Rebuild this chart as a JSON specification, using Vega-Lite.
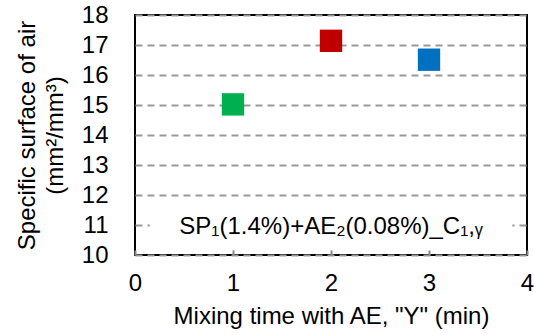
{
  "$schema": "https://vega.github.io/schema/vega-lite/v6.json",
  "width": 392,
  "height": 240,
  "autosize": {"type": "none"},
  "padding": {"left": 135, "top": 15, "right": 7, "bottom": 80},
  "background": "white",
  "config": {
    "font": "Liberation Sans",
    "view": {"stroke": "black", "strokeWidth": 2}
  },
  "datasets": {
    "pts": [
      {"time": 1, "ssa": 15.02, "c": "g"},
      {"time": 2, "ssa": 17.14, "c": "r"},
      {"time": 3, "ssa": 16.51, "c": "b"}
    ],
    "box": [{"x1": 0.15, "x2": 3.85, "y1": 10.55, "y2": 11.5, "label": "SP₁(1.4%)+AE₂(0.08%)_C₁,ᵧ", "tx": 2.0, "ty": 10.93}]
  },
  "layer": [
    {
      "data": {"name": "box"},
      "mark": {"type": "rect", "fill": "white"},
      "encoding": {
        "x": {"field": "x1", "type": "quantitative", "scale": {"domain": [0, 4]}, "title": "Mixing time with AE, \"Y\" (min)",
          "axis": {"values": [0, 1, 2, 3, 4], "format": "d", "labelOverlap": false, "labelFlush": false, "labelBound": false, "grid": false, "domain": false, "tickSize": -5, "tickColor": "#888", "tickWidth": 2, "labelPadding": 21, "titlePadding": 9, "labelFontSize": 24, "titleFontSize": 24, "labelFont": "Liberation Sans", "titleFont": "Liberation Sans", "labelColor": "#000", "titleColor": "#000", "titleFontWeight": "normal"}},
        "x2": {"field": "x2"},
        "y": {"field": "y1", "type": "quantitative", "scale": {"domain": [10, 18]}, "title": ["Specific surface of air", "(mm²/mm³)"],
          "axis": {"format": "d", "labelOverlap": false, "labelFlush": false, "labelBound": false, "grid": true, "gridColor": "#999", "gridDash": [7, 5], "gridWidth": 2, "domain": false, "ticks": false, "labelPadding": 27, "titlePadding": 14, "titleLineHeight": 28, "labelFontSize": 24, "titleFontSize": 24, "labelFont": "Liberation Sans", "titleFont": "Liberation Sans", "labelColor": "#000", "titleColor": "#000", "titleFontWeight": "normal"}},
        "y2": {"field": "y2"}
      }
    },
    {
      "data": {"name": "box"},
      "mark": {"type": "text", "fontSize": 24, "font": "Liberation Sans", "color": "black", "align": "center", "baseline": "middle"},
      "encoding": {
        "x": {"field": "tx", "type": "quantitative"},
        "y": {"field": "ty", "type": "quantitative"},
        "text": {"field": "label"}
      }
    },
    {
      "data": {"name": "pts"},
      "mark": {"type": "square", "size": 500, "opacity": 1, "filled": true},
      "encoding": {
        "x": {"field": "time", "type": "quantitative"},
        "y": {"field": "ssa", "type": "quantitative"},
        "color": {"field": "c", "type": "nominal", "scale": {"domain": ["g", "r", "b"], "range": ["#00B050", "#C00000", "#0070C0"]}, "legend": null}
      }
    }
  ]
}
